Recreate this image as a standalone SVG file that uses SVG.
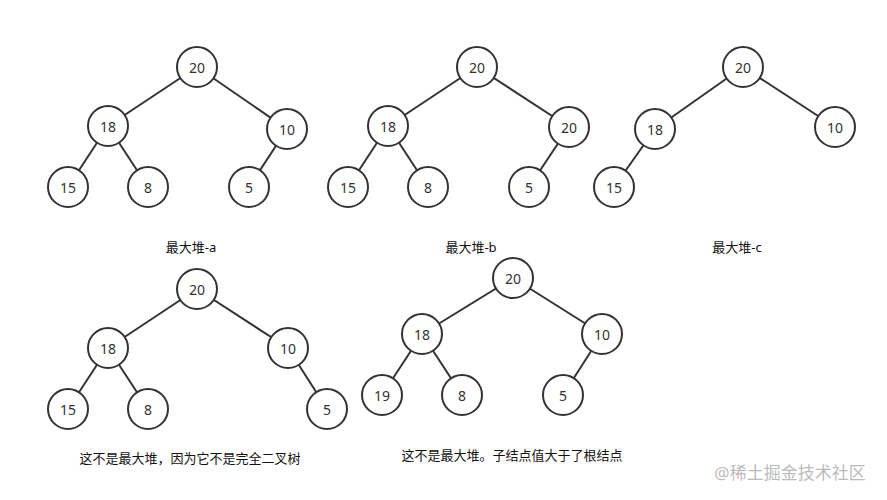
<svg xmlns="http://www.w3.org/2000/svg" width="887" height="500" viewBox="0 0 887 500">
<style>
.e line{stroke:#333;stroke-width:2}
.n circle{fill:#fff;stroke:#333;stroke-width:2}
text{font-family:"Noto Sans","Noto Sans CJK SC",sans-serif;font-size:14px;fill:#333;text-anchor:middle;dominant-baseline:central}
.l{font-size:13px;fill:#111}
.w{font-size:17px;fill:#bbb}
</style>
<rect width="887" height="500" fill="#fff"/>
<g id="connectors" class="e">
<line x1="197" y1="67" x2="108" y2="126"/><line x1="197" y1="67" x2="287" y2="129"/><line x1="108" y1="126" x2="68" y2="187"/><line x1="108" y1="126" x2="148" y2="187"/><line x1="287" y1="129" x2="249" y2="187"/>
<line x1="477" y1="67" x2="388" y2="126"/><line x1="477" y1="67" x2="569" y2="127"/><line x1="388" y1="126" x2="348" y2="187"/><line x1="388" y1="126" x2="428" y2="187"/><line x1="569" y1="127" x2="529" y2="187"/>
<line x1="743" y1="67" x2="655" y2="129"/><line x1="743" y1="67" x2="835" y2="127"/><line x1="655" y1="129" x2="614" y2="187"/>
<line x1="197" y1="289" x2="108" y2="348"/><line x1="197" y1="289" x2="288" y2="348"/><line x1="108" y1="348" x2="68" y2="409"/><line x1="108" y1="348" x2="148" y2="409"/><line x1="288" y1="348" x2="327" y2="409"/>
<line x1="513" y1="278" x2="422" y2="334"/><line x1="513" y1="278" x2="602" y2="334"/><line x1="422" y1="334" x2="382" y2="395"/><line x1="422" y1="334" x2="462" y2="395"/><line x1="602" y1="334" x2="563" y2="395"/>
</g>
<g id="a1" class="n"><circle cx="197" cy="67" r="20"/><text x="197" y="67">20</text></g>
<g id="a2" class="n"><circle cx="108" cy="126" r="20"/><text x="108" y="126">18</text></g>
<g id="a3" class="n"><circle cx="287" cy="129" r="20"/><text x="287" y="129">10</text></g>
<g id="a4" class="n"><circle cx="68" cy="187" r="20"/><text x="68" y="187">15</text></g>
<g id="a5" class="n"><circle cx="148" cy="187" r="20"/><text x="148" y="187">8</text></g>
<g id="a6" class="n"><circle cx="249" cy="187" r="20"/><text x="249" y="187">5</text></g>
<g id="b1" class="n"><circle cx="477" cy="67" r="20"/><text x="477" y="67">20</text></g>
<g id="b2" class="n"><circle cx="388" cy="126" r="20"/><text x="388" y="126">18</text></g>
<g id="b3" class="n"><circle cx="569" cy="127" r="20"/><text x="569" y="127">20</text></g>
<g id="b4" class="n"><circle cx="348" cy="187" r="20"/><text x="348" y="187">15</text></g>
<g id="b5" class="n"><circle cx="428" cy="187" r="20"/><text x="428" y="187">8</text></g>
<g id="b6" class="n"><circle cx="529" cy="187" r="20"/><text x="529" y="187">5</text></g>
<g id="c1" class="n"><circle cx="743" cy="67" r="20"/><text x="743" y="67">20</text></g>
<g id="c2" class="n"><circle cx="655" cy="129" r="20"/><text x="655" y="129">18</text></g>
<g id="c3" class="n"><circle cx="835" cy="127" r="20"/><text x="835" y="127">10</text></g>
<g id="c4" class="n"><circle cx="614" cy="187" r="20"/><text x="614" y="187">15</text></g>
<g id="d1" class="n"><circle cx="197" cy="289" r="20"/><text x="197" y="289">20</text></g>
<g id="d2" class="n"><circle cx="108" cy="348" r="20"/><text x="108" y="348">18</text></g>
<g id="d3" class="n"><circle cx="288" cy="348" r="20"/><text x="288" y="348">10</text></g>
<g id="d4" class="n"><circle cx="68" cy="409" r="20"/><text x="68" y="409">15</text></g>
<g id="d5" class="n"><circle cx="148" cy="409" r="20"/><text x="148" y="409">8</text></g>
<g id="d6" class="n"><circle cx="327" cy="409" r="20"/><text x="327" y="409">5</text></g>
<g id="e1" class="n"><circle cx="513" cy="278" r="20"/><text x="513" y="278">20</text></g>
<g id="e2" class="n"><circle cx="422" cy="334" r="20"/><text x="422" y="334">18</text></g>
<g id="e3" class="n"><circle cx="602" cy="334" r="20"/><text x="602" y="334">10</text></g>
<g id="e4" class="n"><circle cx="382" cy="395" r="20"/><text x="382" y="395">19</text></g>
<g id="e5" class="n"><circle cx="462" cy="395" r="20"/><text x="462" y="395">8</text></g>
<g id="e6" class="n"><circle cx="563" cy="395" r="20"/><text x="563" y="395">5</text></g>
<text class="l" x="191" y="247">最大堆-a</text>
<text class="l" x="471" y="247">最大堆-b</text>
<text class="l" x="737" y="247">最大堆-c</text>
<text class="l" x="190" y="458">这不是最大堆，因为它不是完全二叉树</text>
<text class="l" x="512" y="455">这不是最大堆。子结点值大于了根结点</text>
<text class="w" x="790" y="472">@稀土掘金技术社区</text>
</svg>
